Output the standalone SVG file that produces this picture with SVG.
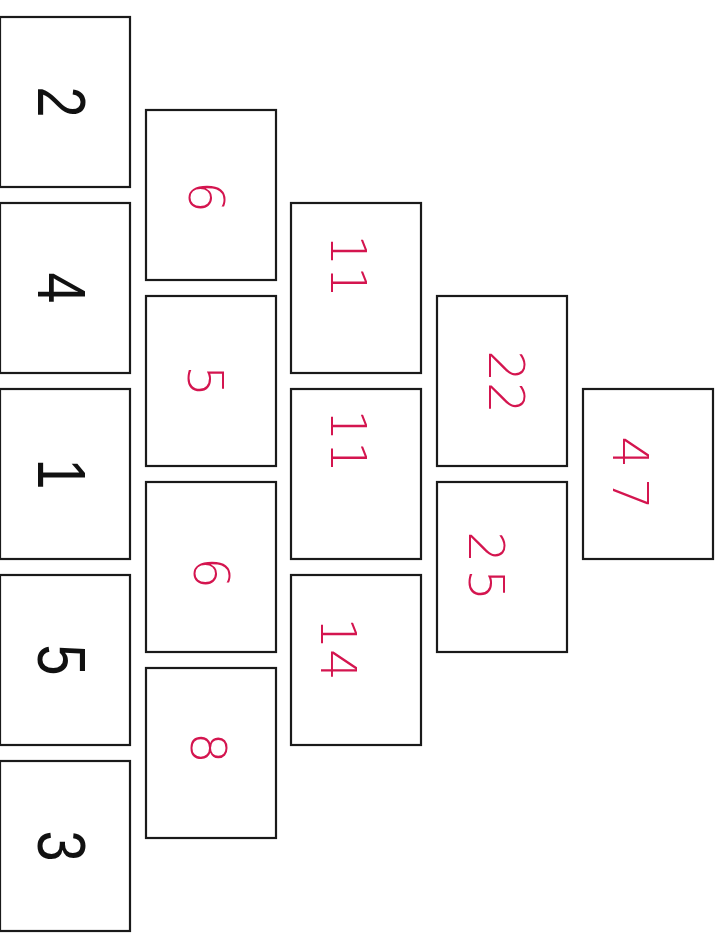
<svg xmlns="http://www.w3.org/2000/svg" width="720" height="938" viewBox="0 0 720 938">
<style>
.box{fill:#fff;stroke:#1a1a1a;stroke-width:2.2}
.k{font-family:"Liberation Sans",Arial,sans-serif;font-size:68px;fill:#111;text-anchor:middle;dominant-baseline:central}
.r{font-family:"DejaVu Sans","Liberation Sans",sans-serif;font-weight:200;font-size:50px;fill:#d4154f;text-anchor:middle;dominant-baseline:central}
</style>
<rect width="720" height="938" fill="#fff"/>
<g id="connectors"/>
<g id="n1"><rect class="box" x="0" y="17" width="130" height="170"/><text class="k" transform="translate(62,102) rotate(90) scale(0.82,1)">2</text></g>
<g id="n2"><rect class="box" x="0" y="203" width="130" height="170"/><text class="k" transform="translate(62,288) rotate(90) scale(0.82,1)">4</text></g>
<g id="n3"><rect class="box" x="0" y="389" width="130" height="170"/><text class="k" transform="translate(62,474) rotate(90) scale(0.82,1)">1</text></g>
<g id="n4"><rect class="box" x="0" y="575" width="130" height="170"/><text class="k" transform="translate(62,660) rotate(90) scale(0.82,1)">5</text></g>
<g id="n5"><rect class="box" x="0" y="761" width="130" height="170"/><text class="k" transform="translate(62,846) rotate(90) scale(0.82,1)">3</text></g>
<g id="n6"><rect class="box" x="146" y="110" width="130" height="170"/><text class="r" transform="translate(206,197) rotate(90)">6</text></g>
<g id="n7"><rect class="box" x="146" y="296" width="130" height="170"/><text class="r" transform="translate(205,381) rotate(90)">5</text></g>
<g id="n8"><rect class="box" x="146" y="482" width="130" height="170"/><text class="r" transform="translate(211,573) rotate(90)">6</text></g>
<g id="n9"><rect class="box" x="146" y="668" width="130" height="170"/><text class="r" transform="translate(208,748) rotate(90)">8</text></g>
<g id="n10"><rect class="box" x="291" y="203" width="130" height="170"/><text class="r" transform="translate(348,266) rotate(90)">11</text></g>
<g id="n11"><rect class="box" x="291" y="389" width="130" height="170"/><text class="r" transform="translate(348,441) rotate(90)">11</text></g>
<g id="n12"><rect class="box" x="291" y="575" width="130" height="170"/><text class="r" transform="translate(338,649) rotate(90)">14</text></g>
<g id="n13"><rect class="box" x="437" y="296" width="130" height="170"/><text class="r" transform="translate(506,382) rotate(90)">22</text></g>
<g id="n14"><rect class="box" x="437" y="482" width="130" height="170"/><text class="r" transform="translate(486,569) rotate(90)" letter-spacing="6">25</text></g>
<g id="n15"><rect class="box" x="583" y="389" width="130" height="170"/><text class="r" transform="translate(630,478) rotate(90)" letter-spacing="10">47</text></g>
</svg>
